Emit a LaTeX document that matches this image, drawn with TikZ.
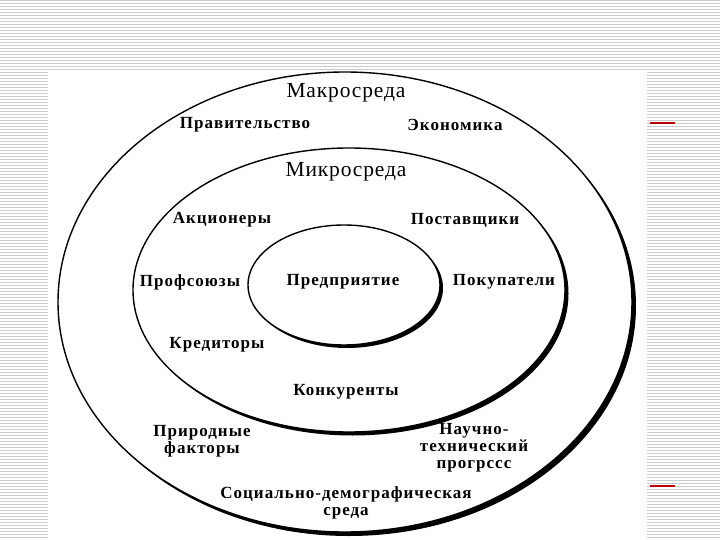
\documentclass[tikz,border=0pt]{standalone}
\usepackage{fontspec}
\setmainfont{Liberation Serif}
\newfontfamily\factorfont[LetterSpace=6]{Liberation Serif}
\newfontfamily\zonefont[LetterSpace=4]{Liberation Serif}
\begin{document}
\begin{tikzpicture}[x=1pt,y=-1pt]
	\tikzset{
		factor/.style={font=\factorfont\bfseries\fontsize{17}{17}\selectfont, align=center, inner sep=0pt},
		zone/.style={font=\zonefont\fontsize{21.5}{22}\selectfont, inner sep=0pt},
		ring/.style={line width=1.4pt, draw=black},
		stripe/.style={line width=1pt, color=black!20},
		mark line/.style={line width=1.3pt, color=red!75!black}
	}

	% background of the slide
	\useasboundingbox (0,0) rectangle (720,540);
	\foreach \y in {0.5,3.5,...,540} \draw[stripe] (0,\y) -- (720,\y);
	\fill[white] (48,72) rectangle (647,540);
	\draw[mark line] (650,123) -- (675,123);
	\draw[mark line] (650,486) -- (675,486);

	% centres of the three rings
	\coordinate (macro) at (345,302);
	\coordinate (micro) at (349,290);
	\coordinate (firm) at (344,285);

	% heavy lower right side of each ring
	\begin{scope}
		\clip ([shift={(4,4)}]macro) ellipse [x radius=287, y radius=230];
		\fill[even odd rule] (0,0) rectangle (720,540) (macro) ellipse [x radius=287, y radius=230];
	\end{scope}
	\begin{scope}
		\clip ([shift={(3.5,3.5)}]micro) ellipse [x radius=216, y radius=142];
		\fill[even odd rule] (0,0) rectangle (720,540) (micro) ellipse [x radius=216, y radius=142];
	\end{scope}
	\begin{scope}
		\clip ([shift={(3,3)}]firm) ellipse [x radius=96, y radius=60];
		\fill[even odd rule] (0,0) rectangle (720,540) (firm) ellipse [x radius=96, y radius=60];
	\end{scope}

	\draw[ring] (macro) ellipse [x radius=287, y radius=230];
	\draw[ring] (micro) ellipse [x radius=216, y radius=142];
	\draw[ring] (firm) ellipse [x radius=96, y radius=60];

	% macro level
	\node[zone](makro) at (346,93){Макросреда};
	\node[factor](prav) at (245,125){Правительство};
	\node[factor](ekon) at (455,125){Экономика};
	\node[factor](prir) at (202,441){Природные\\факторы};
	\node[factor](nauch) at (474,448){Научно-\\технический\\прогрссс};
	\node[factor](soc) at (346,503){Социально-демографическая\\среда};

	% micro level
	\node[zone](mikro) at (346,172){Микросреда};
	\node[factor](akc) at (222,220){Акционеры};
	\node[factor](post) at (465,220){Поставщики};
	\node[factor](prof) at (190,282){Профсоюзы};
	\node[factor](pokup) at (504,282){Покупатели};
	\node[factor](kred) at (217,345){Кредиторы};
	\node[factor](konk) at (346,392){Конкуренты};

	% the firm
	\node[factor](pred) at (343,282){Предприятие};

\end{tikzpicture}
\end{document}
